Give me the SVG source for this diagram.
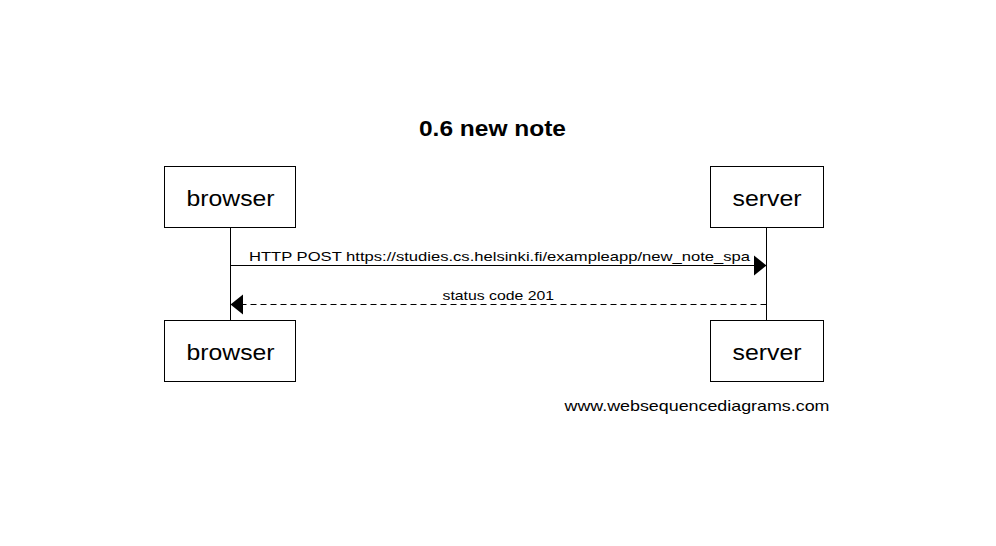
<svg xmlns="http://www.w3.org/2000/svg" width="996" height="546" viewBox="0 0 996 546">
<style>
.box{fill:#fff;stroke:#000;stroke-width:1}
.lbl{font-family:"Liberation Sans",Arial,sans-serif;font-size:22px;fill:#000}
.msg{font-family:"Liberation Sans",Arial,sans-serif;font-size:13px;fill:#000}
.life{stroke:#000;stroke-width:1}
.arr{stroke:#000;stroke-width:1;fill:none}
.head{fill:#000}
</style>
<rect width="996" height="546" fill="#fff"/>
<text id="title" x="419" y="136" font-family="'Liberation Sans',Arial,sans-serif" font-size="22" font-weight="bold" textLength="147" lengthAdjust="spacingAndGlyphs">0.6 new note</text>
<g id="lifelines">
<line class="life" x1="230.5" y1="227.5" x2="230.5" y2="320.5"/>
<line class="life" x1="766.5" y1="227.5" x2="766.5" y2="320.5"/>
</g>
<g id="connectors">
<line class="arr" x1="230.5" y1="265.5" x2="756" y2="265.5"/>
<polygon class="head" points="754,255.5 766.5,265.5 754,275.5"/>
<text class="msg" x="249" y="260.5" textLength="501" lengthAdjust="spacingAndGlyphs">HTTP POST https://studies.cs.helsinki.fi/exampleapp/new_note_spa</text>
<line class="arr" x1="766.5" y1="304.5" x2="241" y2="304.5" stroke-dasharray="6,4"/>
<polygon class="head" points="243,294.5 230.5,304.5 243,314.5"/>
<text class="msg" x="442.5" y="299.5" textLength="111.5" lengthAdjust="spacingAndGlyphs">status code 201</text>
</g>
<g id="browser-top">
<rect class="box" x="164.5" y="166.5" width="131" height="61"/>
<text class="lbl" x="186.5" y="206" textLength="88" lengthAdjust="spacingAndGlyphs">browser</text>
</g>
<g id="server-top">
<rect class="box" x="710.5" y="166.5" width="113" height="61"/>
<text class="lbl" x="732.5" y="206" textLength="69" lengthAdjust="spacingAndGlyphs">server</text>
</g>
<g id="browser-bottom">
<rect class="box" x="164.5" y="320.5" width="131" height="61"/>
<text class="lbl" x="186.5" y="359.5" textLength="88" lengthAdjust="spacingAndGlyphs">browser</text>
</g>
<g id="server-bottom">
<rect class="box" x="710.5" y="320.5" width="113" height="61"/>
<text class="lbl" x="732.5" y="359.5" textLength="69" lengthAdjust="spacingAndGlyphs">server</text>
</g>
<text id="watermark" x="564.5" y="410.5" font-family="'Liberation Sans',Arial,sans-serif" font-size="15" textLength="265" lengthAdjust="spacingAndGlyphs">www.websequencediagrams.com</text>
</svg>
